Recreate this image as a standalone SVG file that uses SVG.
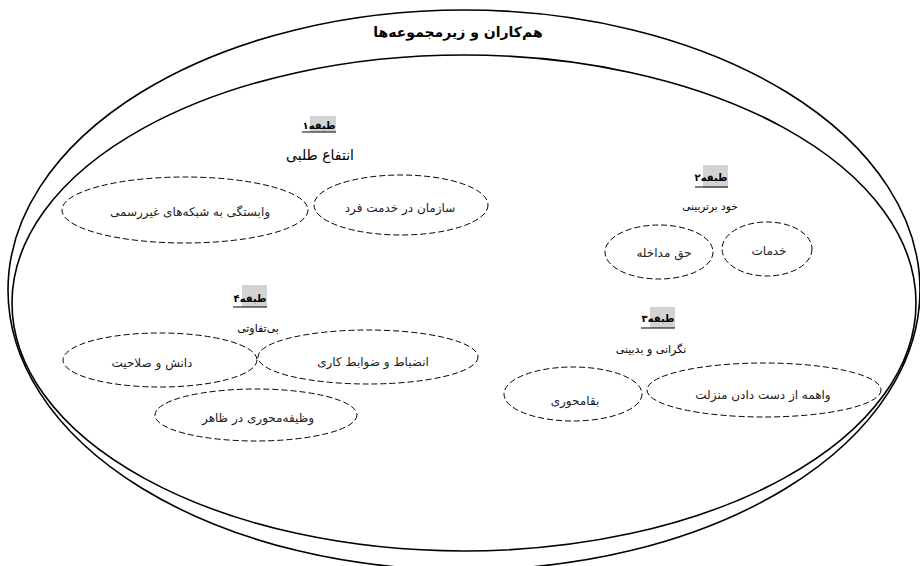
<svg xmlns="http://www.w3.org/2000/svg" width="920" height="566" viewBox="0 0 920 566">
<style>
.big{fill:none;stroke:#000;stroke-width:1.6}
.dash{fill:none;stroke:#000;stroke-width:1;stroke-dasharray:6 3}
text{font-family:"DejaVu Sans",sans-serif;fill:#000;text-anchor:middle;direction:rtl}
.title{font-size:14px;font-weight:bold}
.lbl{font-size:10px;font-weight:bold}
.hl{fill:#d3d3d3}
.ul{stroke:#000;stroke-width:1.2}
.item{font-size:12px;fill:#222}
</style>
<rect width="920" height="566" fill="#fff"/>
<g id="outer"><ellipse class="big" cx="464" cy="290" rx="456" ry="280"/></g>
<g id="inner"><ellipse class="big" cx="464" cy="303" rx="452" ry="248"/></g>
<text class="title" x="458" y="37">هم‌کاران و زیرمجموعه‌ها</text>
<g id="connectors"></g>

<g id="class1">
<rect class="hl" x="310" y="116" width="26" height="16"/>
<text class="lbl" x="319" y="129">طبقه۱</text>
<line class="ul" x1="302" y1="132" x2="336" y2="132"/>
<text x="320" y="160" style="font-size:14px">انتفاع طلبی</text>
</g>
<g id="c1a"><ellipse class="dash" cx="185" cy="210" rx="123" ry="33"/><text class="item" x="190" y="216">وابستگی به شبکه‌های غیررسمی</text></g>
<g id="c1b"><ellipse class="dash" cx="401" cy="205" rx="87" ry="30"/><text class="item" x="400" y="212">سازمان در خدمت فرد</text></g>

<g id="class2">
<rect class="hl" x="703" y="165" width="25" height="23"/>
<text class="lbl" x="711" y="181">طبقه۲</text>
<line class="ul" x1="695" y1="187" x2="728" y2="187"/>
<text x="710" y="210" style="font-size:10.5px">خود برتربینی</text>
</g>
<g id="c2a"><ellipse class="dash" cx="659" cy="252" rx="54" ry="27"/><text class="item" x="664" y="257">حق مداخله</text></g>
<g id="c2b"><ellipse class="dash" cx="767" cy="249" rx="45" ry="27"/><text class="item" x="769" y="255">خدمات</text></g>

<g id="class4">
<rect class="hl" x="242" y="285" width="25" height="22"/>
<text class="lbl" x="250" y="302">طبقه۴</text>
<line class="ul" x1="233" y1="307" x2="267" y2="307"/>
<text x="258" y="332" style="font-size:11px">بی‌تفاوتی</text>
</g>
<g id="c4a"><ellipse class="dash" cx="160" cy="360" rx="97" ry="27"/><text class="item" x="152" y="367">دانش و صلاحیت</text></g>
<g id="c4b"><ellipse class="dash" cx="368" cy="357" rx="110" ry="27"/><text class="item" x="373" y="366">انضباط و ضوابط کاری</text></g>
<g id="c4c"><ellipse class="dash" cx="256" cy="415" rx="101" ry="26"/><text class="item" x="258" y="422">وظیفه‌محوری در ظاهر</text></g>

<g id="class3">
<rect class="hl" x="650" y="307" width="25" height="21"/>
<text class="lbl" x="658" y="322">طبقه۳</text>
<line class="ul" x1="641" y1="328" x2="675" y2="328"/>
<text x="651" y="353" style="font-size:11px">نگرانی و بدبینی</text>
</g>
<g id="c3a"><ellipse class="dash" cx="573" cy="394" rx="69" ry="27"/><text class="item" x="575" y="405">بقامحوری</text></g>
<g id="c3b"><ellipse class="dash" cx="764" cy="390" rx="117" ry="27"/><text class="item" x="763" y="399">واهمه از دست دادن منزلت</text></g>
</svg>
